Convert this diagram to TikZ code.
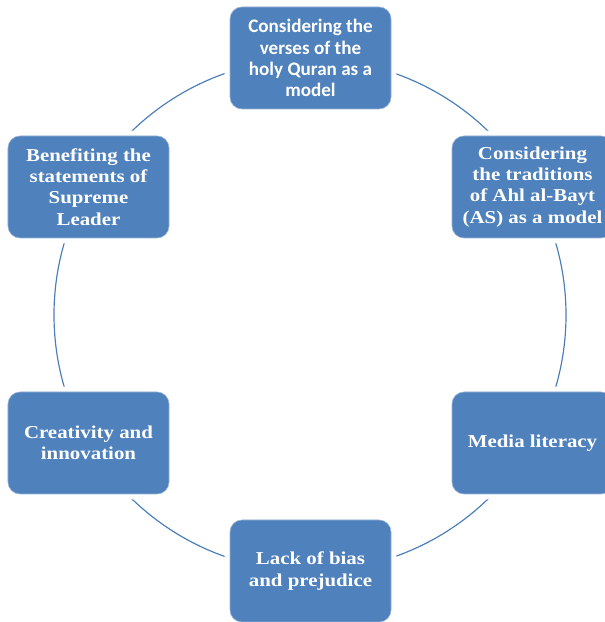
\documentclass[tikz,border=0pt]{standalone}
\usepackage{fontspec}
\setmainfont{Liberation Serif}
\newfontfamily\boxserif[FakeStretch=1.15]{Liberation Serif}
\newfontfamily\boxsans{Carlito}
\definecolor{boxblue}{HTML}{4F81BD}
\definecolor{ringblue}{HTML}{4A7EBB}
\begin{document}
\begin{tikzpicture}[
  x=0.03cm, y=0.03cm,
  item/.style={rectangle, rounded corners=0.36cm, fill=boxblue, draw=boxblue!60!white, line width=0.5pt,
    minimum width=4.83cm, minimum height=3.06cm, text=white, align=center,
    preaction={draw=white, line width=0.32cm},
    font=\boxserif\bfseries\fontsize{15.5}{18.1}\selectfont},
  ring/.style={draw=ringblue, line width=1pt}
]
\useasboundingbox (0,0) rectangle (604,622);
\coordinate (hub) at (310,307);
\draw[ring] (hub) circle (256);

\node[item, font=\boxsans\bfseries\fontsize{16.3}{18.1}\selectfont] (quran) at (310.5,564) {Considering the\\verses of the\\holy Quran as a\\model};
\node[item] (bayt) at (532.5,435) {Considering\\the traditions\\of Ahl al-Bayt\\(AS) as a model};
\node[item] (media) at (532.5,179) {Media literacy};
\node[item] (bias) at (310.5,51) {Lack of bias\\and prejudice};
\node[item] (creative) at (88.5,179) {Creativity and\\innovation};
\node[item] (leader) at (88.5,435) {Benefiting the\\statements of\\Supreme\\Leader};
\end{tikzpicture}
\end{document}
